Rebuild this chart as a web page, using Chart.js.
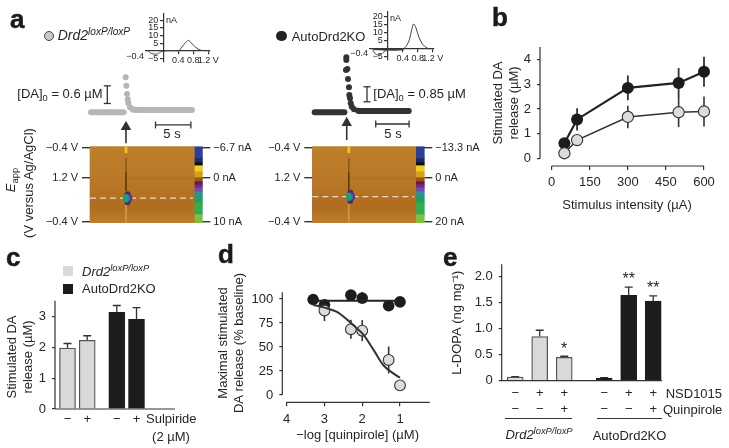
<!DOCTYPE html>
<html><head><meta charset="utf-8">
<style>
html,body{margin:0;padding:0;background:#fff;width:729px;height:448px;overflow:hidden}
canvas{position:absolute;left:0;top:0}
.t{position:absolute;white-space:nowrap;font-family:"Liberation Sans",Arial,sans-serif;color:#262626;line-height:1}
.t i sup,.t sup{font-size:72%;vertical-align:baseline;position:relative;top:-.5em}
.t sub{font-size:72%;vertical-align:baseline;position:relative;top:.3em}
.sw{position:absolute}
</style>
<script src="https://cdn.jsdelivr.net/npm/chart.js@4"></script>
</head><body>
<script>
// ---------- data: panel b
const bCurrent=[50,100,300,500,600];
const bAuto=[0.62,1.58,2.85,3.05,3.5];
const bAutoErr=[0.15,0.45,0.5,0.6,0.6];
const bFlox=[0.22,0.75,1.68,1.87,1.9];
const bFloxErr=[0.08,0.2,0.45,0.6,0.6];
const bXTicks=[0,150,300,450,600];
const bYTicks=[0,1,2,3,4];
// ---------- panel c
const cPos=[1,2,3.5,4.5];
const cLabels=['−','+','−','+'];
const cFlox=[1.97,2.22];
const cAuto=[3.13,2.9];
const cFloxErr=[0.15,0.15];
const cAutoErr=[0.22,0.38];
const cYTicks=[0,1,2,3];
// ---------- panel d
const dAutoX=[3.3,3,2.3,2,1.3,1];
const dAuto=[99.5,94,104,101,93,97];
const dAutoErr=[4,3,5,6,4,4];
const dFloxX=[3,2.3,2,1.3,1];
const dFlox=[88,68.5,67,36.5,10];
const dFloxErr=[11,10,11,14,0];
const dFitX=[3.3,3,2.67,2.4,2.2,1.97,1.7,1.44,1.18,1];
const dFit=[94,91,86.5,78.5,71.5,62.8,47,31,22.5,18];
const dFlatX=[3.3,1];
const dFlat=[98.3,98.3];
const dXTicks=[4,3,2,1];
const dYTicks=[0,25,50,75,100];
// ---------- panel e
const ePos=[1,2,3,4.63,5.63,6.63];
const eFlox=[0.07,0.85,0.45];
const eAuto=[0.05,1.64,1.53];
const eFloxErr=[0.01,0.12,0.02];
const eAutoErr=[0.01,0.16,0.1];
const eNSD=['−','+','+','−','+','+'];
const eQuin=['−','−','+','−','−','+'];
const eYTicks=[0,0.5,1,1.5,2];
const eYLabels=['0','0.5','1.0','1.5','2.0'];
const eStars=[{x:3,y:0.6,s:'*'},{x:5.63,y:1.94,s:'**'},{x:6.63,y:1.78,s:'**'}];
// ---------- panel a: traces (seconds, µM)
const floxPreT=[0.42,2,4,5.05];
const floxPre=[0,0,0,0];
const floxPeakT=[5.33,5.42,5.52,5.62,5.7,5.94,6.36];
const floxPeak=[1.19,0.9,0.62,0.44,0.31,0.17,0.1];
const floxPostT=[6.36,8,11,14.7];
const floxPost=[0.09,0.08,0.08,0.08];
const autoPreT=[0.45,2,4,4.9];
const autoPre=[0,0,0,0];
const autoPeakT=[5.19,5.19,5.34,5.14,5.44,5.59,5.64,5.74,5.85,6,6.34,6.99];
const autoPeak=[3.13,2.97,2.46,2.4,1.89,1.42,0.98,0.8,0.51,0.32,0.17,0.09];
const autoPostT=[6.99,9,12,14.55];
const autoPost=[0.08,0.07,0.07,0.07];
// ---------- panel a: voltammograms (V, nA)
const cvFloxV=[-0.4,-0.3,-0.18,-0.08,0,0.2,0.4,0.5,0.6,0.67,0.75,0.85,0.95,1.05];
const cvFlox=[-0.3,-2,-2.2,-1,-0.2,0,0,2.5,5.5,6.8,5,2.5,0.8,0];
const cvAutoV=[-0.4,-0.33,-0.2,-0.1,0,0.2,0.4,0.5,0.58,0.64,0.69,0.75,0.83,0.93,1.05,1.13];
const cvAuto=[-0.5,-3,-3.7,-1.8,-0.4,-0.3,0,2,6,12,15.6,13.5,7.5,3,0.6,0];
const cvLoopV=[-0.38,-0.1,0.2,0.42];
const cvLoop=[0,-0.3,-0.5,-0.2];
const cvXTicks=[0.4,0.8,1.2];
const cvXLabels=['0.4','0.8','1.2 V'];
const cvYTicks=[-5,5,10,15,20];
// ---------- panel a: colour plots (scan sample 0–76)
const colourBands=[[0,12,'#2b3f96'],[12,16,'#1e2a60'],[16,19,'#0e0e12'],[19,25,'#efcf1e'],[25,31,'#d99e1e'],[31,35,'#96561a'],[35,38,'#6a1a3a'],[38,41,'#7d2190'],[41,45,'#6550b0'],[45,50,'#2f8f9f'],[50,56,'#1fa060'],[56,68,'#2fae50'],[68,76,'#7fc040']];
const heatYTicks=[1,31,75.3];
const heatLeft=['−0.4 V','1.2 V','−0.4 V'];
const floxRight=['−6.7 nA','0 nA','10 nA'];
const autoRight=['−13.3 nA','0 nA','20 nA'];

// ---------- helpers
const W=729,H=448,FONT='"Liberation Sans",Arial,sans-serif',INK='#262626';
Chart.defaults.font.family=FONT;Chart.defaults.color=INK;Chart.defaults.animation=false;
Chart.defaults.responsive=false;
const zip=(xs,ys)=>xs.map((x,i)=>({x,y:ys[i]}));
const span=(p0,v0,p1,v1,a,b)=>{const k=(v1-v0)/(p1-p0);return [v0+(a-p0)*k,v0+(b-p0)*k];};

const spinePlugin={id:'spine',afterDraw(c,_,o){
  const x=c.scales.x,y=c.scales.y,g=c.ctx;g.save();g.strokeStyle='#333';g.lineWidth=o.w||1.2;g.beginPath();
  if(o.y){const px=c.chartArea.left;g.moveTo(px,y.getPixelForValue(o.y[0]));g.lineTo(px,y.getPixelForValue(o.y[1]));}
  if(o.x){const py=c.chartArea.bottom;g.moveTo(x.getPixelForValue(o.x[0]),py);g.lineTo(x.getPixelForValue(o.x[1]),py);}
  g.stroke();g.restore();}};
const errPlugin={id:'err',beforeDatasetsDraw(c){
  const g=c.ctx;c.data.datasets.forEach(d=>{ if(!d.err) return;
    const x=c.scales.x,y=c.scales.y;g.save();g.strokeStyle=d.errColor||'#333';g.lineWidth=d.errW||1.6;
    d.data.forEach((p,i)=>{const e=d.err[i];if(!e) return;const px=x.getPixelForValue(p.x),top=y.getPixelForValue(p.y+e);
      const low=y.getPixelForValue(d.cap?p.y:p.y-e);g.beginPath();g.moveTo(px,low);g.lineTo(px,top);
      if(d.cap){g.moveTo(px-d.cap,top);g.lineTo(px+d.cap,top);}g.stroke();});
    g.restore();});}};
const markPlugin={id:'marks',afterDatasetsDraw(c,_,o){ if(!o.items) return;const g=c.ctx;g.save();g.fillStyle=INK;g.font='16px '+FONT;g.textAlign='center';g.textBaseline='middle';
  o.items.forEach(m=>g.fillText(m.s,c.scales.x.getPixelForValue(m.x),c.scales.y.getPixelForValue(m.y)));g.restore();}};
Chart.register(spinePlugin,errPlugin,markPlugin);

function panel(rect,datasets,scales,plugins){
  const cv=document.createElement('canvas');cv.width=W;cv.height=H;cv.style.width=W+'px';cv.style.height=H+'px';document.body.appendChild(cv);
  const yw=rect.yw||0,xh=rect.xh||0,rw=rect.rw||0;
  if(yw&&scales.y) scales.y.afterFit=s=>{s.width=yw;};
  if(xh&&scales.x) scales.x.afterFit=s=>{s.height=xh;};
  if(rw&&scales.y2) scales.y2.afterFit=s=>{s.width=rw;};
  datasets.forEach(d=>{d.clip=false;if(d.type==='bar')d.grouped=false;});
  return new Chart(cv,{type:'bar',data:{datasets},options:{
    responsive:false,animation:false,events:[],
    layout:{padding:{left:rect.l-yw,right:W-rect.r-rw,top:rect.t,bottom:H-rect.b-xh}},
    plugins:Object.assign({legend:{display:false},tooltip:{enabled:false}},plugins||{}),
    scales}});
}
function axisY(min,max,ticks,opt){opt=opt||{};return {type:'linear',min,max,reverse:!!opt.reverse,position:opt.position||'left',
  afterBuildTicks:s=>{s.ticks=ticks.map(v=>({value:v}));},
  border:{display:false},
  grid:{drawOnChartArea:false,drawTicks:true,tickLength:opt.tl||3,color:'#333',lineWidth:opt.lw||1.2},
  ticks:{autoSkip:false,padding:opt.pad==null?6:opt.pad,color:INK,font:{size:opt.fs||13},callback:opt.cb||(v=>String(v))},
  title:opt.title?{display:true,text:opt.title,padding:0,color:INK,font:{size:13,lineHeight:1.3}}:{display:false}};}
function axisX(min,max,ticks,opt){opt=opt||{};return {type:'linear',min,max,reverse:!!opt.reverse,offset:false,
  afterBuildTicks:s=>{s.ticks=ticks.map(v=>({value:v}));},
  border:{display:false},
  grid:{drawOnChartArea:false,offset:false,drawTicks:opt.tl!==0,tickLength:opt.tl===0?0:(opt.tl||4),color:'#333',lineWidth:1.2},
  ticks:{autoSkip:false,maxRotation:0,minRotation:0,padding:opt.pad==null?4:opt.pad,color:INK,font:{size:opt.fs||13,lineHeight:opt.lh||1.2},callback:opt.cb||(v=>String(v))},
  title:opt.title?{display:true,text:opt.title,padding:0,color:INK,font:{size:13,lineHeight:1.3}}:{display:false}};}
const line=(data,color,w,extra)=>Object.assign({type:'line',data,borderColor:color,borderWidth:w,pointRadius:0,fill:false,tension:0},extra||{});
const dots=(data,fill,edge,r,err,ew)=>({type:'line',data,showLine:false,backgroundColor:fill,borderColor:edge,pointBackgroundColor:fill,pointBorderColor:edge,pointBorderWidth:edge===fill?0:1.1,pointRadius:r,err,errColor:'#333',errW:ew||1.6});
const barSet=(xs,ys,fill,edge,thick,err)=>({type:'bar',data:zip(xs,ys),backgroundColor:fill,borderColor:edge,borderWidth:1.3,barThickness:thick,err,cap:4,errColor:'#333',errW:1.3});

// HTML annotation text
function note(x,y,html,size,opt){opt=opt||{};const e=document.createElement('div');e.className='t';e.innerHTML=html;
  e.style.left=x+'px';e.style.top=y+'px';e.style.fontSize=size+'px';
  const ax=opt.align==='center'?'-50%':opt.align==='right'?'-100%':'0';
  e.style.transform='translate('+ax+',-50%)'+(opt.rot?' rotate('+opt.rot+'deg)':'');
  if(opt.bold){e.style.fontWeight='bold';e.style.color='#1a1a1a';e.style.webkitTextStroke='0.5px #1a1a1a';}
  document.body.appendChild(e);}
function swatch(x,y,w,h,color,round,edge){const e=document.createElement('div');e.className='sw';
  Object.assign(e.style,{left:x+'px',top:y+'px',width:w+'px',height:h+'px',background:color,borderRadius:round?'50%':'0',border:edge?('1px solid '+edge):'none',boxSizing:'border-box'});document.body.appendChild(e);}

// ---------- panel b
{const R={l:540,r:714,t:40,b:166,yw:50.5,xh:47.5};
 const xr=span(551.7,0,704,600,R.l,R.r),yr=span(158.7,0,59.3,4,R.b,R.t);
 panel(R,[
  Object.assign(dots(zip(bCurrent,bFlox),'#dcdcdc','#333',5.6,bFloxErr,1.6),{order:0}),
  Object.assign(dots(zip(bCurrent,bAuto),'#1c1c1c','#1c1c1c',6,bAutoErr,1.8),{order:1}),
  line(zip(bCurrent,bAuto),'#222',2.2,{order:2}),
  line(zip(bCurrent,bFlox),'#333',1.6,{order:3})
 ],{x:axisX(xr[0],xr[1],bXTicks,{title:'Stimulus intensity (µA)',pad:5}),
    y:axisY(yr[1],yr[0],bYTicks,{title:['Stimulated DA','release (µM)']})},
 {spine:{x:[0,600],y:[0,4.5]}});}

// ---------- panel c
{const R={l:55,r:175,t:305,b:409,yw:51.5,xh:14};
 const xr=span(67.5,1,136.5,4.5,R.l,R.r),yr=span(409,0,316.3,3,R.b,R.t);
 const ylab=v=>String(v);
 panel(R,[barSet(cPos.slice(0,2),cFlox,'#d9d9d9','#555',16,cFloxErr),
          barSet(cPos.slice(2),cAuto,'#1c1c1c','#1c1c1c',16,cAutoErr)],
 {x:axisX(xr[0],xr[1],cPos,{tl:0,pad:3,cb:(v,i)=>cLabels[i]}),
  y:axisY(0,yr[1],cYTicks,{title:['Stimulated DA','release (µM)'],cb:ylab})},
 {spine:{x:[xr[0],xr[1]],y:[0,3.5]}});}

// ---------- panel d
{const R={l:282.3,r:433,t:283.7,b:402.3,yw:67.8,xh:41.2};
 const xr=span(286.7,4,400,1,R.l,R.r),yr=span(395,0,299,100,R.b,R.t);
 panel(R,[
  Object.assign(dots(zip(dFloxX,dFlox),'#dcdcdc','#333',5.4,dFloxErr,1.6),{order:0}),
  Object.assign(dots(zip(dAutoX,dAuto),'#1c1c1c','#1c1c1c',5.8,dAutoErr,1.8),{order:0}),
  line(zip(dFlatX,dFlat),'#222',2,{order:-1}),
  line(zip(dFitX,dFit),'#333',2,{order:-1,cubicInterpolationMode:'monotone'})
 ],{x:axisX(xr[1],xr[0],dXTicks,{reverse:true,title:'−log [quinpirole] (µM)',pad:5}),
    y:axisY(yr[0],yr[1],dYTicks,{title:['Maximal stimulated','DA release (% baseline)']})},
 {spine:{x:[4,0.21],y:[0,107]}});}

// ---------- panel e
{const R={l:501.7,r:662,t:264.7,b:380.7,yw:53.2,xh:36};
 const xr=span(515.2,1,653.2,6.63,R.l,R.r),yr=span(380.7,0,276.7,2,R.b,R.t);
 panel(R,[barSet(ePos.slice(0,3),eFlox,'#d9d9d9','#555',16,eFloxErr),
          barSet(ePos.slice(3),eAuto,'#1c1c1c','#1c1c1c',16,eAutoErr)],
 {x:axisX(xr[0],xr[1],ePos,{tl:0,pad:5,lh:1.23,cb:(v,i)=>[eNSD[i],eQuin[i]]}),
  y:axisY(0,yr[1],eYTicks,{title:'L-DOPA (ng mg⁻¹)',cb:(v,i)=>eYLabels[i]})},
 {spine:{x:[xr[0],xr[1]],y:[0,2.24]},marks:{items:eStars}});}

// ---------- panel a: traces
const hid=(a)=>({type:'linear',display:false,offset:false,min:a[0],max:a[1],grid:{offset:false}});
function trace(R,xp,yp,pre,peak,post,color,bar5,conc,arrow){
 const xr=span(xp[0],0,xp[1],5,R.l,R.r),yr=span(yp[0],0,yp[1],1,R.b,R.t);
 const sb=c=>({pointStyle:'line',pointRadius:3.5,pointBorderWidth:1.3,pointBorderColor:c});
 panel(R,[
  line(pre,color,6,{borderCapStyle:'round'}),
  line(post,color,6,{borderCapStyle:'round'}),
  dots(peak,color,color,3),
  line(bar5,'#333',1.3,Object.assign(sb('#333'),{pointRotation:90})),
  line(conc,'#333',1.3,Object.assign(sb('#333'),{pointRotation:0})),
  line(arrow,'#333',1.6,{pointStyle:'triangle',pointRadius:[4.5,0],pointBackgroundColor:'#333',pointBorderColor:'#333'})
 ],{x:hid(xr),y:hid([yr[0],yr[1]])});
}
const bar5F=[9.55,14.55],bar5A=[9.6,14.6];
trace({l:88,r:211,t:50,b:147},[88,123.35],[112.3,82.9],zip(floxPreT,floxPre),zip(floxPeakT,floxPeak),zip(floxPostT,floxPost),'#b6b6b6',
  zip(bar5F,[-0.43,-0.43]),zip([2.73,2.73],[0.3,0.9]),zip([5.37,5.37],[-0.5,-1.05]));
trace({l:311.7,r:420,t:40,b:145},[311.7,345.05],[112.3,94.7],zip(autoPreT,autoPre),zip(autoPeakT,autoPeak),zip(autoPostT,autoPost),'#333',
  zip(bar5A,[-0.665,-0.665]),zip([8.29,8.29],[0.6,1.45]),zip([5.25,5.25],[-0.6,-1.57]));

// ---------- panel a: voltammograms
function cv(R,x0,xp,y0,yp,series){
 const xr=span(x0,0,xp,0.4,R.l,R.r),yr=span(y0,0,yp,5,R.b,R.t);
 const sx=axisX(xr[0],xr[1],cvXTicks,{fs:9,tl:3,pad:1,cb:(v,i)=>cvXLabels[i]});
 const sy=axisY(yr[0],yr[1],cvYTicks,{fs:9,tl:3,pad:1.5,cb:v=>String(v).replace('-','−')+'  '});
 sx.position={y:0};sy.position={x:0};
 sx.border={display:true,color:'#333',width:1.2};sy.border={display:true,color:'#333',width:1.2};
 panel(R,series,{x:sx,y:sy});
}
cv({l:146,r:210,t:14,b:62},163.3,178.3,50.7,43.1,[line(zip(cvFloxV,cvFlox),'#444',1,{cubicInterpolationMode:'monotone'})]);
cv({l:370,r:434,t:12,b:60},387.7,402.7,49,41,[line(zip(cvAutoV,cvAuto),'#444',1,{tension:0.35}),line(zip(cvLoopV,cvLoop),'#333',2)]);

// ---------- panel a: colour plots
function heat(R,barX,barW,bgW,evt,dashY,rightLabels,tickL,tickR){
 const hx=hid([0,R.r-R.l]);
 const bg=(c)=>{const a=c.chart.chartArea;if(!a) return '#b87a26';const g=c.chart.ctx.createLinearGradient(0,a.top,0,a.bottom);
   g.addColorStop(0,'#bd7f2b');g.addColorStop(.45,'#b97826');g.addColorStop(.8,'#b06c20');g.addColorStop(1,'#bd7e2c');return g;};
 const y=axisY(0,76,heatYTicks,{reverse:true,tl:tickL,lw:1.4,fs:11,pad:4,cb:(v,i)=>heatLeft[i]});
 const y2=axisY(0,76,heatYTicks,{reverse:true,position:'right',tl:tickR,lw:1.4,fs:11,pad:3,cb:(v,i)=>rightLabels[i]});
 const fb=(x,a,b,col,th)=>({type:'bar',data:[{x,y:[a,b]}],backgroundColor:col,barThickness:th,borderWidth:0,yAxisID:'y'});
 const ds=[fb(bgW/2,0,76,bg,bgW),
   fb((evt+bgW)/2,30,33,'rgba(120,66,18,.09)',bgW-evt),
   fb(evt,0,6,'#e8c030',2.2),fb(evt,12,26,'#8a5a1c',1),fb(evt,26,44,'#5c3a12',1),fb(evt,58,76,'#c9963a',1.5)];
 colourBands.forEach(b=>ds.push(fb(barX,b[0],b[1],b[2],barW)));
 const pt=(x,yy,col,r)=>({type:'line',showLine:false,data:[{x,y:yy}],pointRadius:r,pointBackgroundColor:col,pointBorderWidth:0,yAxisID:'y'});
 ds.push({type:'line',data:zip([0,bgW-2],[dashY,dashY]),borderColor:'#ecd9c2',borderWidth:1.3,borderDash:[6,4],pointRadius:0,yAxisID:'y'});
 ds.push(pt(evt+1.5,dashY-4,'#4a2a70',3),pt(evt+1.5,dashY+4,'#4a2a70',3),pt(evt+1.8,dashY,'#5d2a90',4.6));
 ds.push(pt(evt+.8,dashY,'#2a70b0',3.6),pt(evt+.2,dashY,'#1fa070',3),pt(evt,dashY-2,'#1fa070',2.3),pt(evt,dashY+2,'#1fa070',2.3));
 panel(R,ds.reverse(),{x:hx,y,y2});
}
heat({l:90,r:202.3,t:146.7,b:222.7,yw:90,rw:120},108.7,7.4,105,36,51.5,floxRight,8,8);
heat({l:312.3,r:424.3,t:146.7,b:222.7,yw:90,rw:120},108,8,104,36.5,50,autoRight,8,8);

// ---------- text
note(10,19,'a',26,{bold:1});note(492,17,'b',26,{bold:1});note(6,257,'c',26,{bold:1});note(218,254,'d',26,{bold:1});note(443,257,'e',26,{bold:1});
swatch(44,31,10,10,'#c9c9c9',1,'#444');
note(57.7,35,'<i>Drd2<sup>loxP/loxP</sup></i>',14);
swatch(276,30.5,10.5,10.5,'#222',1);
note(291.7,35.7,'AutoDrd2KO',13);
note(17.3,94,'[DA]<sub>0</sub> = 0.6 µM',13);
note(373.3,94,'[DA]<sub>0</sub> = 0.85 µM',13);
note(172,133.3,'5 s',13,{align:'center'});
note(393,132.7,'5 s',13,{align:'center'});
note(166,20,'nA',9);note(144,56,'−0.4',9,{align:'right'});
note(390,17.5,'nA',9);note(368,53,'−0.4',9,{align:'right'});
note(11,180,'<i>E</i><sub>app</sub>',13,{align:'center',rot:-90});
note(28,183,'(V versus Ag/AgCl)',13,{align:'center',rot:-90});
// legend c
swatch(63.3,266,10,10,'#d9d9d9');swatch(63.3,284,10,10,'#1c1c1c');
note(82,272,'<i>Drd2<sup>loxP/loxP</sup></i>',13);note(82,288,'AutoDrd2KO',13);
note(146,418,'Sulpiride',13);note(171,436,'(2 µM)',13,{align:'center'});
// e annotations
note(665.7,393,'NSD1015',13);note(663,409,'Quinpirole',13);
swatch(505,417.7,66.7,1.1,'#333');swatch(596.7,417.7,65,1.1,'#333');
note(539,435,'<i>Drd2<sup>loxP/loxP</sup></i>',13,{align:'center'});
note(592.7,435,'AutoDrd2KO',13);
</script>
</body></html>
